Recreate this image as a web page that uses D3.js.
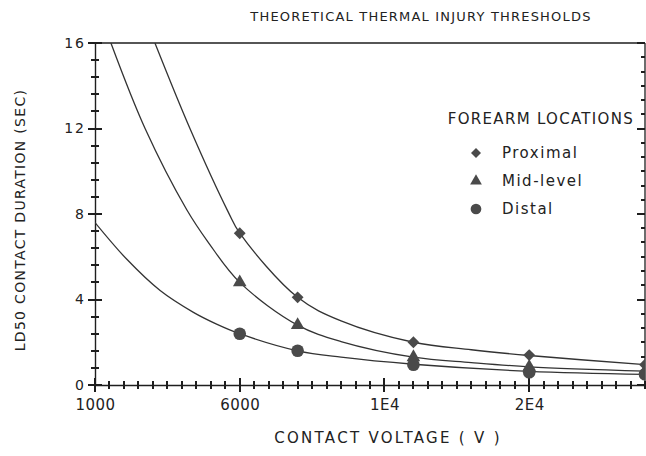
<!DOCTYPE html>
<html>
<head>
<meta charset="utf-8">
<script src="https://cdn.jsdelivr.net/npm/d3@7"></script>
<style>
  body { margin: 0; background: #fff; }
  text { font-family: "DejaVu Sans", sans-serif; fill: #222; }
  .ticks line { shape-rendering: crispEdges; }
</style>
</head>
<body>
<div id="graphic"></div>
<script>
// DATA
var series = ["Proximal", "Mid-level", "Distal"];

// measured points (voltage, seconds)
var pointVolts = [6000, 8000, 12000, 16000, 20000];
var proximalPts = [7.1, 4.1, 2.0, 1.4, 0.95];
var midPts = [4.8, 2.8, 1.3, 0.85, 0.65];
var distalPts = [2.4, 1.6, 0.95, 0.6, 0.5];

// fitted curves
var proximalCurveV = [3070, 4280, 5600, 6000, 8000, 9500, 12000, 14000, 16000, 20000];
var proximalCurveT = [16, 12, 8.1, 7.1, 4.1, 3.0, 2.0, 1.65, 1.38, 0.95];
var midCurveV = [1550, 2730, 4170, 4900, 6000, 8000, 9500, 12000, 14000, 16000, 20000];
var midCurveT = [16, 12, 8.2, 6.7, 4.8, 2.8, 2.03, 1.3, 1.05, 0.85, 0.65];
var distalCurveV = [1000, 2100, 3250, 4400, 5200, 6000, 8000, 9500, 12000, 16000, 20000];
var distalCurveT = [7.6, 5.88, 4.42, 3.4, 2.85, 2.4, 1.6, 1.3, 0.97, 0.64, 0.5];

var xTicks = [1000, 6000, 11000, 16000];
var xTickLabels = ["1000", "6000", "1E4", "2E4"];
var yTicks = [0, 4, 8, 12, 16];

var margin = {top: 43, right: 1, bottom: 71, left: 95};
var width = 646 - margin.left - margin.right,
    height = 456 - margin.top - margin.bottom;

var svg = d3.select("#graphic").append("svg")
    .attr("width", 646)
    .attr("height", 456);

var g = svg.append("g")
    .attr("transform", "translate(" + margin.left + "," + margin.top + ")");

var x = d3.scaleLinear().domain([1000, 20000]).range([0, width]);
var y = d3.scaleLinear().domain([0, 16]).range([height, 0]);

var ink = "#1e1e1e";

svg.append("defs").append("clipPath").attr("id", "clip")
  .append("rect").attr("x", 0).attr("y", 0).attr("width", width).attr("height", height);

// frame: top + right
g.append("line").attr("x1", 0).attr("x2", width).attr("y1", 0).attr("y2", 0)
  .attr("stroke", ink).attr("stroke-width", 1.3);
g.append("line").attr("x1", width).attr("x2", width).attr("y1", 0).attr("y2", height)
  .attr("stroke", ink).attr("stroke-width", 1.3);

// x axis (labels via d3 axis, tick marks drawn crossing the line)
var xAxis = d3.axisBottom(x).tickValues(xTicks).tickSize(0).tickPadding(0)
  .tickFormat(function (d, i) { return xTickLabels[i]; });
var gx = g.append("g").attr("transform", "translate(0," + height + ")").call(xAxis);
gx.select(".domain").attr("stroke", ink).attr("stroke-width", 1.4);
gx.selectAll(".tick text").attr("dy", 0).attr("y", 25)
  .style("font-size", "15px").attr("letter-spacing", "0.5px").attr("fill", ink);

g.append("g").attr("class", "ticks").selectAll("line")
  .data(d3.range(1000, 20001, 500))
  .enter().append("line")
  .attr("x1", function (d) { return Math.round(x(d)); })
  .attr("x2", function (d) { return Math.round(x(d)); })
  .attr("y1", function (d) { return height - ((d - 1000) % 5000 === 0 ? 7 : 4); })
  .attr("y2", function (d) { return height + ((d - 1000) % 5000 === 0 ? 7 : 4); })
  .attr("stroke", ink).attr("stroke-width", 1.6);

// y axis
var yAxis = d3.axisLeft(y).tickValues(yTicks).tickSize(0).tickPadding(0);
var gy = g.append("g").call(yAxis);
gy.select(".domain").attr("stroke", ink).attr("stroke-width", 1.4);
gy.selectAll(".tick text").attr("x", -9).style("font-size", "14px")
  .attr("letter-spacing", "2px").attr("fill", ink);

g.append("g").attr("class", "ticks").selectAll("line")
  .data(d3.range(0, 21))
  .enter().append("line")
  .attr("y1", function (i) { return Math.round(y(i * 0.8)); })
  .attr("y2", function (i) { return Math.round(y(i * 0.8)); })
  .attr("x1", function (i) { return i % 5 === 0 ? -7 : -4; })
  .attr("x2", function (i) { return i % 5 === 0 ? 7 : 4; })
  .attr("stroke", ink).attr("stroke-width", 1.6);

// right axis ticks (inward)
g.append("g").attr("class", "ticks").selectAll("line")
  .data(d3.range(0, 25))
  .enter().append("line")
  .attr("y1", function (i) { return Math.round(y(i * 4 / 6)); })
  .attr("y2", function (i) { return Math.round(y(i * 4 / 6)); })
  .attr("x1", width)
  .attr("x2", function (i) { return width - (i % 6 === 0 ? 8 : 4); })
  .attr("stroke", ink).attr("stroke-width", 1.6);

// curves
var line = d3.line()
  .x(function (d) { return x(d[0]); })
  .y(function (d) { return y(d[1]); })
  .curve(d3.curveCatmullRom.alpha(0.5));

var curves = [
  d3.zip(proximalCurveV, proximalCurveT),
  d3.zip(midCurveV, midCurveT),
  d3.zip(distalCurveV, distalCurveT)
];

g.append("g").attr("clip-path", "url(#clip)")
  .selectAll("path")
  .data(curves)
  .enter()
  .append("path")
  .attr("d", line)
  .attr("fill", "none")
  .attr("stroke", "#333")
  .attr("stroke-width", 1.3);

// markers
var shapes = [d3.symbolSquare, d3.symbolTriangle, d3.symbolCircle];
var sizes = [70, 80, 125];
var rot = [45, 0, 0];
var pts = [proximalPts, midPts, distalPts];

svg.select("defs").append("clipPath").attr("id", "clip2")
  .append("rect").attr("x", -20).attr("y", -20).attr("width", width + 20).attr("height", height + 40);

var mk = g.append("g").attr("clip-path", "url(#clip2)");
pts.forEach(function (vals, si) {
  mk.selectAll(".m" + si)
    .data(d3.zip(pointVolts, vals))
    .enter()
    .append("path")
    .attr("class", "m" + si)
    .attr("transform", function (d) {
      return "translate(" + x(d[0]) + "," + y(d[1]) + ") rotate(" + rot[si] + ")";
    })
    .attr("d", d3.symbol().type(shapes[si]).size(sizes[si]))
    .attr("fill", "#4a4a4a");
});

// legend
var lg = svg.append("g");
lg.append("text").attr("x", 634).attr("y", 124).attr("text-anchor", "end")
  .style("font-size", "15px").attr("letter-spacing", "1.3px").text("FOREARM LOCATIONS");
var legY = [153, 181, 209];
var legSizes = [50, 60, 90];
series.forEach(function (s, i) {
  lg.append("path")
    .attr("transform", "translate(476," + legY[i] + ") rotate(" + rot[i] + ")")
    .attr("d", d3.symbol().type(shapes[i]).size(legSizes[i]))
    .attr("fill", "#4a4a4a");
  lg.append("text").attr("x", 502).attr("y", legY[i] + 5)
    .style("font-size", "15px").attr("letter-spacing", "1.5px").text(s);
});

// titles
svg.append("text").attr("x", 421).attr("y", 21).attr("text-anchor", "middle")
  .style("font-size", "13px").attr("letter-spacing", "1.2px")
  .text("THEORETICAL THERMAL INJURY THRESHOLDS");

svg.append("text").attr("x", 388).attr("y", 443).attr("text-anchor", "middle")
  .style("font-size", "15px").attr("letter-spacing", "2.3px")
  .text("CONTACT VOLTAGE ( V )");

svg.append("text").attr("transform", "translate(25,220) rotate(-90)").attr("text-anchor", "middle")
  .style("font-size", "14px").attr("letter-spacing", "1.3px")
  .text("LD50  CONTACT  DURATION (SEC)");
</script>
</body>
</html>
